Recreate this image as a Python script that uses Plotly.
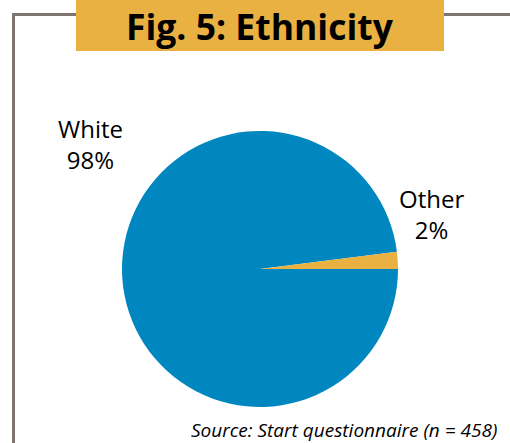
import plotly.graph_objects as go

labels = ["White", "Other"]
values = [98, 2]
colors = ["#0087BF", "#E8B142"]
label_text = ["White<br>98%", "Other<br>2%"]
title = "Fig. 5: Ethnicity"
source = "Source: Start questionnaire (n = 458)"

W, H = 510, 443
def px(x): return x / W
def py(y): return 1 - y / H

fig = go.Figure(go.Pie(
    labels=labels, values=values, sort=False, direction="clockwise",
    rotation=90, marker=dict(colors=colors, line=dict(width=0)),
    textinfo="none", hoverinfo="label+percent", showlegend=False,
    domain=dict(x=[px(122), px(398)], y=[py(407), py(131)]),
))

shapes = [
    dict(type="line", xref="paper", yref="paper", x0=px(13.5), x1=px(13.5), y0=py(14.5), y1=py(443), line=dict(color="#7F7570", width=3)),
    dict(type="line", xref="paper", yref="paper", x0=px(12), x1=px(78), y0=py(14.5), y1=py(14.5), line=dict(color="#7F7570", width=3)),
    dict(type="line", xref="paper", yref="paper", x0=px(442), x1=px(510), y0=py(14.5), y1=py(14.5), line=dict(color="#7F7570", width=3)),
    dict(type="rect", xref="paper", yref="paper", x0=px(76), x1=px(444), y0=py(51), y1=py(0), fillcolor="#E8B142", line=dict(width=0)),
]

annotations = [
    dict(text="<b>" + title + "</b>", x=px(260), y=py(26), xref="paper", yref="paper", showarrow=False,
         font=dict(family="Open Sans", size=35.5, color="black"), xanchor="center", yanchor="middle"),
    dict(text=label_text[0], x=px(90.5), y=py(144), xref="paper", yref="paper", showarrow=False,
         font=dict(family="Open Sans", size=24, color="black"), xanchor="center", yanchor="middle"),
    dict(text=label_text[1], x=px(431), y=py(214), xref="paper", yref="paper", showarrow=False,
         font=dict(family="Open Sans", size=24, color="black"), xanchor="center", yanchor="middle"),
    dict(text="<i>" + source + "</i>", x=px(499), y=py(430), xref="paper", yref="paper", showarrow=False,
         font=dict(family="Open Sans", size=19, color="black"), xanchor="right", yanchor="middle"),
]

fig.update_layout(width=W, height=H, margin=dict(l=0, r=0, t=0, b=0),
                  paper_bgcolor="white", plot_bgcolor="white",
                  shapes=shapes, annotations=annotations)
fig.write_html("out.html", config={"displayModeBar": False},
               post_script="document.body.style.margin='0';document.body.style.overflow='hidden';")
